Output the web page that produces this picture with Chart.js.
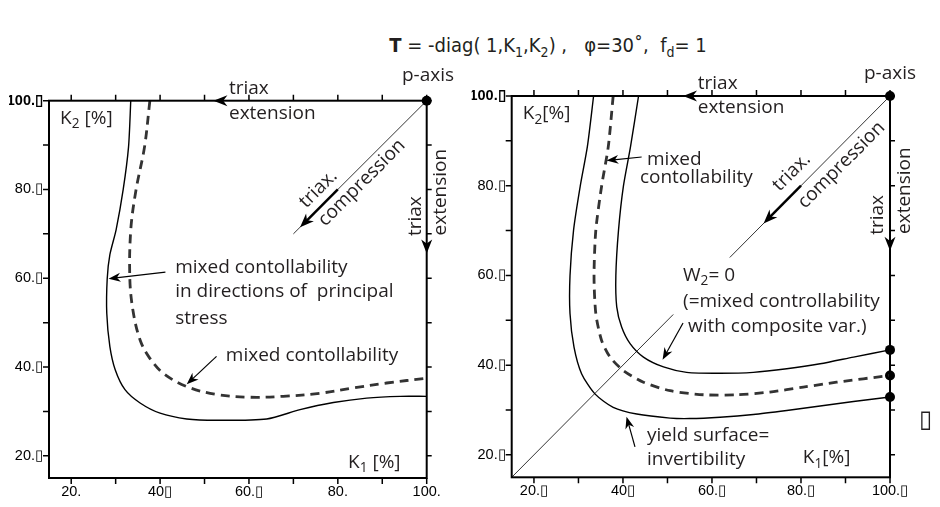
<!DOCTYPE html>
<html>
<head>
<meta charset="utf-8">
<script src="https://cdn.jsdelivr.net/npm/chart.js@4.4.0/dist/chart.umd.min.js"></script>
<style>
  html, body { margin: 0; padding: 0; background: #fff; width: 940px; height: 507px; overflow: hidden; }
  #title { position: absolute; left: 248px; width: 600px; top: 33px; text-align: center;
           font-family: "Liberation Sans Narrow", "DejaVu Sans Condensed", sans-serif; font-size: 20px; color: #231f20; }
  #title sub { font-size: 14px; }
  canvas { position: absolute; top: 0; }
</style>
</head>
<body>
<div id="title"><b>T</b> = -diag( 1,K<sub>1</sub>,K<sub>2</sub>) ,&nbsp;&nbsp; φ=30˚,&nbsp; f<sub>d</sub>= 1</div>
<canvas id="leftChart" width="470" height="507" style="left:0"></canvas>
<canvas id="rightChart" width="470" height="507" style="left:470px"></canvas>
<script>
// axis ticks and labels
const xTicks = [20, 30, 40, 50, 60, 70, 80, 90, 100];
const yTicks = [20, 30, 40, 50, 60, 70, 80, 90, 100];
const leftXLabels = ["20.", "", "40\u25AF", "", "60.\u25AF", "", "80.", "", "100."];
const rightXLabels = ["20.\u25AF", "", "40\u25AF", "", "60.\u25AF", "", "80.\u25AF", "", "100.\u25AF"];
const yLabels = ["20.\u25AF", "", "40.\u25AF", "", "60.\u25AF", "", "80.\u25AF", "", "100.\u25AF"];

// left panel curves (K1, K2 in %)
const leftSolidK1 = [33.4, 32.9, 31.7, 30.1, 28.7, 28.1, 28.0, 28.7, 29.9, 32.1, 35.5, 40, 46, 52.7, 64, 71.5, 79, 86.5, 94, 100];
const leftSolidK2 = [100, 89.6, 80, 70.9, 65.3, 59.9, 52.1, 44.6, 39.4, 34.9, 31.9, 29.6, 28.3, 28, 28.3, 30.4, 32, 33, 33.4, 33.4];
const leftDashK1 = [37.7, 36.5, 34.6, 33.4, 33.2, 34, 35.5, 37.4, 40.7, 46, 52.7, 60.2, 67.7, 76, 83.5, 91, 100];
const leftDashK2 = [100, 89.6, 80, 70.9, 59.6, 52.1, 46.1, 42.4, 38.6, 35.6, 33.8, 33.2, 33.4, 34.1, 35.3, 36.4, 37.5];
const leftDiagK = [100, 70];
const leftDotK1 = [100];
const leftDotK2 = [100];

// right panel curves
const yieldK1 = [33.4, 32, 30.4, 28.9, 28.1, 28.1, 29, 30.7, 33.7, 37.8, 43.1, 50.6, 55, 61.8, 69.3, 76.8, 84.3, 91.8, 100];
const yieldK2 = [100, 88.7, 79.9, 70.1, 59.9, 51.5, 44, 38.1, 33.6, 30.6, 29.1, 28.2, 28.1, 28.4, 29.0, 29.9, 30.9, 31.9, 32.9];
const mixedK1 = [37.8, 36.7, 35.2, 33.9, 33.5, 33.9, 35.2, 37.1, 40.1, 44.6, 50.6, 58.1, 65.6, 73, 80.5, 88, 100];
const mixedK2 = [100, 88.7, 79.9, 70.1, 59.9, 51.5, 45.5, 41.8, 38.8, 36.2, 34.3, 33.4, 33.4, 34, 35.1, 36.2, 37.7];
const w2K1 = [43.5, 41.7, 40.1, 39, 38.4, 38.6, 39.7, 41.6, 44.6, 49.1, 54.3, 61.8, 69.3, 76.8, 84.3, 91.8, 100];
const w2K2 = [100, 88.7, 79.9, 70.1, 59.9, 53, 48.5, 44.8, 41.8, 39.6, 38.4, 38.2, 38.4, 39.2, 40.3, 41.8, 43.4];
const rightDiagUpper = [100, 64];
const rightDiagLower = [51.3, 15];
const rightDotK1 = [100, 100, 100, 100];
const rightDotK2 = [100, 43.4, 37.7, 32.9];

const zip = (a, b) => a.map((v, i) => ({ x: v, y: b[i] }));

const TEXT = '#231f20';
const noteFont = s => s + 'px "Open Sans", sans-serif';

function drawRich(ctx, str, x, y, align, size) {
    const parts = str.split(/_(\w)/);
    let w = 0;
    parts.forEach((p, i) => {
        ctx.font = noteFont(i % 2 ? size * 0.72 : size);
        w += ctx.measureText(p).width;
    });
    let cx = align === 'center' ? x - w / 2 : x;
    parts.forEach((p, i) => {
        const sub = i % 2 === 1;
        ctx.font = noteFont(sub ? size * 0.72 : size);
        ctx.fillText(p, cx, y + (sub ? size * 0.3 : 0));
        cx += ctx.measureText(p).width;
    });
}

function drawArrow(ctx, x1, y1, x2, y2, lw, len, wid) {
    const a = Math.atan2(y2 - y1, x2 - x1);
    const c = Math.cos(a), s = Math.sin(a);
    if (lw > 0) {
        ctx.lineWidth = lw;
        ctx.beginPath();
        ctx.moveTo(x1, y1);
        ctx.lineTo(x2 - c * len * 0.6, y2 - s * len * 0.6);
        ctx.stroke();
    }
    const bx = x2 - c * len, by = y2 - s * len;
    ctx.beginPath();
    ctx.moveTo(x2, y2);
    ctx.lineTo(bx - s * wid / 2, by + c * wid / 2);
    ctx.lineTo(x2 - c * len * 0.7, y2 - s * len * 0.7);
    ctx.lineTo(bx + s * wid / 2, by - c * wid / 2);
    ctx.closePath();
    ctx.fill();
}

function panelPlugin(notes, arrows) {
    return {
        id: 'panel',
        afterDraw(chart) {
            const { ctx, chartArea: a, scales: { x, y } } = chart;
            ctx.save();
            ctx.strokeStyle = '#000';
            ctx.fillStyle = '#000';
            // outward ticks on all four sides
            ctx.lineWidth = 1.5;
            ctx.beginPath();
            xTicks.forEach(v => {
                const px = x.getPixelForValue(v);
                ctx.moveTo(px, a.bottom); ctx.lineTo(px, a.bottom + 6);
                ctx.moveTo(px, a.top); ctx.lineTo(px, a.top - 6);
            });
            yTicks.forEach(v => {
                const py = y.getPixelForValue(v);
                ctx.moveTo(a.left, py); ctx.lineTo(a.left - 6, py);
                ctx.moveTo(a.right, py); ctx.lineTo(a.right + 5, py);
            });
            ctx.stroke();
            ctx.lineWidth = 2;
            ctx.strokeRect(a.left, a.top, a.right - a.left, a.bottom - a.top);

            arrows.forEach(ar => {
                drawArrow(ctx, x.getPixelForValue(ar.from[0]), y.getPixelForValue(ar.from[1]),
                    x.getPixelForValue(ar.to[0]), y.getPixelForValue(ar.to[1]), ar.w, ar.len, ar.wid);
            });

            ctx.fillStyle = TEXT;
            ctx.textBaseline = 'middle';
            ctx.textAlign = 'left';
            notes.forEach(n => {
                const px = x.getPixelForValue(n.x), py = y.getPixelForValue(n.y);
                const size = n.size || 19;
                if (n.rot) {
                    ctx.save();
                    ctx.translate(px, py);
                    ctx.rotate(n.rot * Math.PI / 180);
                    drawRich(ctx, n.t, 0, 0, 'center', size);
                    ctx.restore();
                } else {
                    drawRich(ctx, n.t, px, py, n.align || 'left', size);
                }
            });
            ctx.restore();
        }
    };
}

function makeScales(xLabels, pad) {
    const family = '"Liberation Sans", Arial, sans-serif';
    return {
        x: {
            type: 'linear', min: 15, max: 100,
            afterBuildTicks: s => { s.ticks = xTicks.map(v => ({ value: v })); },
            afterFit: s => { s.height = pad.xh; },
            grid: { display: false, drawTicks: false },
            border: { display: false },
            ticks: {
                autoSkip: false, maxRotation: 0, padding: 5, color: '#000', font: { family, size: 14.5 },
                callback: v => xLabels[xTicks.indexOf(v)]
            }
        },
        y: {
            type: 'linear', min: 15, max: 100,
            afterBuildTicks: s => { s.ticks = yTicks.map(v => ({ value: v })); },
            afterFit: s => { s.width = 40; },
            grid: { display: false, drawTicks: false },
            border: { display: false },
            ticks: {
                autoSkip: false, padding: 6, color: '#000',
                font: c => ({ family, size: 14.5, weight: c.tick && c.tick.value === 100 ? 'bold' : 'normal' }),
                callback: v => yLabels[yTicks.indexOf(v)]
            }
        }
    };
}

const baseLine = { showLine: true, pointRadius: 0, fill: false, clip: false, tension: 0.25 };

// ---------- left panel ----------
new Chart(document.getElementById('leftChart'), {
    type: 'scatter',
    data: {
        datasets: [
            { ...baseLine, data: zip(leftSolidK1, leftSolidK2), borderColor: '#000', borderWidth: 1.4 },
            { ...baseLine, tension: 0.35, data: zip(leftDashK1, leftDashK2), borderColor: '#333', borderWidth: 2.8, borderDash: [9, 6] },
            { ...baseLine, tension: 0, data: zip(leftDiagK, leftDiagK), borderColor: '#000', borderWidth: 0.8 },
            { data: zip(leftDotK1, leftDotK2), pointRadius: 5, backgroundColor: '#000', borderWidth: 0, clip: false }
        ]
    },
    options: {
        responsive: false, animation: false, devicePixelRatio: 1,
        layout: { padding: { left: 9, right: 43.3, top: 100.7, bottom: 0 } },
        plugins: { legend: { display: false }, tooltip: { enabled: false } },
        scales: makeScales(leftXLabels, { xh: 29 })
    },
    plugins: [panelPlugin(
        [
            { x: 55.5, y: 102.8, t: 'triax' },
            { x: 55.5, y: 97.1, t: 'extension' },
            { x: 100.3, y: 105.7, t: 'p-axis', align: 'center' },
            { x: 17.5, y: 96, t: 'K_2 [%]' },
            { x: 82.3, y: 18.4, t: 'K_1 [%]' },
            { x: 75.6, y: 80.1, t: 'triax.', rot: -45 },
            { x: 85.4, y: 81.5, t: 'compression', rot: -45 },
            { x: 97.4, y: 74, t: 'triax', rot: -90 },
            { x: 103.1, y: 79.4, t: 'extension', rot: -90 },
            { x: 43.4, y: 62.5, t: 'mixed contollability' },
            { x: 43.4, y: 56.9, t: 'in directions of  principal' },
            { x: 43.4, y: 51, t: 'stress' },
            { x: 54.8, y: 42.5, t: 'mixed contollability' }
        ],
        [
            { from: [41.2, 61.4], to: [28.4, 59.9], w: 1.2, len: 12, wid: 9 },
            { from: [52.7, 42.4], to: [46, 36.1], w: 1.2, len: 12, wid: 9 },
            { from: [80, 80], to: [71.5, 71.5], w: 2.5, len: 14, wid: 11 },
            { from: [57, 100], to: [52, 100], w: 0, len: 14, wid: 11 },
            { from: [100, 70], to: [100, 65.6], w: 0, len: 14, wid: 11 }
        ])]
});

// ---------- right panel ----------
new Chart(document.getElementById('rightChart'), {
    type: 'scatter',
    data: {
        datasets: [
            { ...baseLine, data: zip(yieldK1, yieldK2), borderColor: '#000', borderWidth: 1.4 },
            { ...baseLine, data: zip(mixedK1, mixedK2), borderColor: '#333', borderWidth: 2.8, borderDash: [9, 6] },
            { ...baseLine, data: zip(w2K1, w2K2), borderColor: '#000', borderWidth: 1.4 },
            { ...baseLine, tension: 0, data: zip(rightDiagUpper, rightDiagUpper), borderColor: '#000', borderWidth: 0.8 },
            { ...baseLine, tension: 0, data: zip(rightDiagLower, rightDiagLower), borderColor: '#000', borderWidth: 0.8 },
            { data: zip(rightDotK1, rightDotK2), pointRadius: 5, backgroundColor: '#000', borderWidth: 0, clip: false }
        ]
    },
    options: {
        responsive: false, animation: false, devicePixelRatio: 1,
        layout: { padding: { left: 1.7, right: 50, top: 96, bottom: 0 } },
        plugins: { legend: { display: false }, tooltip: { enabled: false } },
        scales: makeScales(rightXLabels, { xh: 29.7 })
    },
    plugins: [panelPlugin(
        [
            { x: 56.8, y: 102.8, t: 'triax' },
            { x: 56.8, y: 97.4, t: 'extension' },
            { x: 100, y: 105, t: 'p-axis', align: 'center' },
            { x: 17.5, y: 96, t: 'K_2[%]' },
            { x: 80.4, y: 19.3, t: 'K_1[%]' },
            { x: 45.4, y: 85.8, t: 'mixed' },
            { x: 43.8, y: 81.7, t: 'contollability' },
            { x: 77.9, y: 83, t: 'triax.', rot: -45 },
            { x: 89.1, y: 84.6, t: 'compression', rot: -45 },
            { x: 97.3, y: 73.5, t: 'triax', rot: -90 },
            { x: 103.3, y: 78.9, t: 'extension', rot: -90 },
            { x: 53.5, y: 60, t: 'W_2= 0' },
            { x: 53.5, y: 54.2, t: '(=mixed controllability' },
            { x: 54.6, y: 48.6, t: 'with composite var.)' },
            { x: 45.4, y: 24.2, t: 'yield surface=' },
            { x: 45.4, y: 18.9, t: 'invertibility' },
            { x: 106.5, y: 27.8, t: '\u25AF', size: 24 }
        ],
        [
            { from: [44.2, 86.4], to: [36.3, 85.6], w: 1.2, len: 12, wid: 9 },
            { from: [53.5, 49.4], to: [48.9, 41.2], w: 1.2, len: 12, wid: 9 },
            { from: [42.7, 21.8], to: [40.8, 28.5], w: 1.2, len: 12, wid: 9 },
            { from: [80, 80], to: [71.6, 71.6], w: 2.5, len: 14, wid: 11 },
            { from: [58, 100], to: [53.5, 100], w: 0, len: 14, wid: 11 },
            { from: [100, 70], to: [100, 65.5], w: 0, len: 14, wid: 11 }
        ])]
});
</script>
</body>
</html>
